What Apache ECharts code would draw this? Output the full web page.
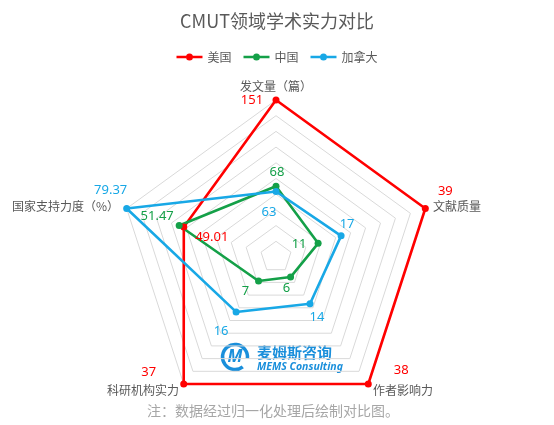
<!DOCTYPE html>
<html>
<head>
<meta charset="utf-8">
<script src="https://cdn.jsdelivr.net/npm/echarts@6/dist/echarts.min.js"></script>
<style>
  html, body { margin: 0; padding: 0; background: #fff; }
  #main { width: 554px; height: 425px; }
</style>
</head>
<body>
<div id="main"></div>
<script>
// 指标（按逆时针排列，起点在正上方）与原始数据；图中按各指标最大值归一化
var indicators = ['发文量（篇）', '国家支持力度（%）', '科研机构实力', '作者影响力', '文献质量'];
var indicatorMax = [151, 79.37, 37, 38, 39];
var usaValues = [151, 49.01, 37, 38, 39];
var chinaValues = [68, 51.47, 7, 6, 11];
var canadaValues = [63, 79.37, 16, 14, 17];
var countries = ['美国', '中国', '加拿大'];
var colors = ['#FF0000', '#14A048', '#18A8E6'];

// 每个顶点数值标签相对数据点的偏移 [dx, dy]
var labelOffsets = [
    [[-24, 0], [28, 10], [-35, -12], [33, -14], [20, -17]],
    [[1, -14], [-22, -9], [-13, 10], [-4, 11], [-19, 1]],
    [[-7, 21], [-16, -18], [-15, 19], [7, 14], [6, -12]]
];

var allValues = [usaValues, chinaValues, canadaValues];

var myChart = echarts.init(document.getElementById('main'));

var legendIcon = 'path://M0,2.8h9.6v2.4H0z M16.4,2.8h9.6v2.4h-9.6z M9.5,4a3.5,3.5 0 1,0 7,0a3.5,3.5 0 1,0 -7,0z';

// 用富文本的内边距把标签挪到各自的位置
function offsetRich(offsets) {
    var rich = {};
    offsets.forEach(function (o, k) {
        var dx = o[0], dy = o[1];
        rich['v' + k] = {
            padding: [Math.max(0, 2 * dy), Math.max(0, -2 * dx), Math.max(0, -2 * dy), Math.max(0, 2 * dx)]
        };
    });
    return rich;
}

var series = countries.map(function (name, i) {
    var values = allValues[i];
    return {
        name: name,
        type: 'radar',
        symbol: 'circle',
        symbolSize: 7,
        lineStyle: { width: 2.6, color: colors[i] },
        itemStyle: { color: colors[i] },
        label: {
            show: true,
            position: 'inside',
            color: colors[i],
            fontSize: 13,
            fontFamily: 'Noto Sans',
            formatter: function (params) {
                var idx = params.dimensionIndex;
                if (idx == null) idx = values.indexOf(params.value);
                return '{v' + idx + '|' + params.value + '}';
            },
            rich: offsetRich(labelOffsets[i])
        },
        data: [{ name: name, value: values }]
    };
});

myChart.setOption({
    animation: false,
    title: [{
        text: 'CMUT领域学术实力对比',
        left: 'center',
        top: 7,
        textStyle: { fontSize: 18, fontWeight: 'normal', color: '#595959', fontFamily: 'Noto Sans CJK SC' }
    }, {
        text: '注：数据经过归一化处理后绘制对比图。',
        left: 142,
        top: 399,
        textStyle: { fontSize: 14, fontWeight: 'normal', color: '#A6A6A6', fontFamily: 'Noto Sans CJK SC' }
    }],
    legend: {
        data: countries,
        top: 46,
        left: 'center',
        icon: legendIcon,
        itemWidth: 26,
        itemHeight: 8,
        itemGap: 12,
        textStyle: { fontSize: 12, color: '#595959', fontFamily: 'Noto Sans CJK SC' }
    },
    color: colors,
    radar: {
        center: [276, 257],
        radius: 157,
        shape: 'polygon',
        splitNumber: 10,
        startAngle: 90,
        nameGap: 8,
        axisName: { color: '#595959', fontSize: 12, fontFamily: 'Noto Sans CJK SC' },
        axisLine: { show: false },
        splitArea: { show: false },
        splitLine: { lineStyle: { color: '#D9D9D9', width: 1 } },
        indicator: indicators.map(function (n, i) {
            return { name: n, max: indicatorMax[i], min: 0 };
        })
    },
    graphic: [{
        type: 'group',
        left: 220,
        top: 342,
        children: [{
            type: 'arc',
            shape: { cx: 15, cy: 15, r: 12.5, startAngle: 0.9, endAngle: 0.9 + Math.PI * 1.75 },
            style: { stroke: '#1A8FDB', lineWidth: 3.5, fill: null }
        }, {
            type: 'text',
            x: 15,
            y: 15,
            style: { text: 'M', fill: '#1A8FDB', font: 'italic bold 17px Noto Sans', align: 'center', verticalAlign: 'middle' }
        }, {
            type: 'text',
            x: 37,
            y: 3,
            style: { text: '麦姆斯咨询', fill: '#1A8FDB', font: 'bold 15px "Noto Sans CJK SC"' }
        }, {
            type: 'text',
            x: 37,
            y: 20,
            style: { text: 'MEMS Consulting', fill: '#1A8FDB', font: 'italic bold 10.5px Noto Sans' }
        }]
    }],
    series: series
});
</script>
</body>
</html>
